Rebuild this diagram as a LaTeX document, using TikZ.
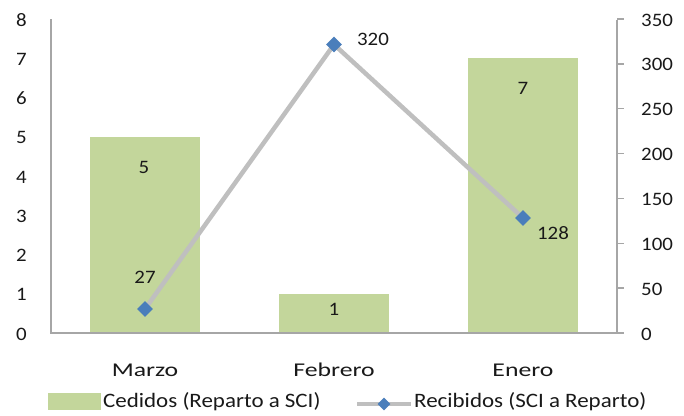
\documentclass[tikz,border=0pt]{standalone}
\usepackage{fontspec}
\setmainfont{Carlito}[FakeStretch=1.12]
\newfontfamily\catfont{Carlito}[FakeStretch=1.32]
\newfontfamily\numfont{Carlito}[FakeStretch=1.1]
\usetikzlibrary{shapes.geometric}
\definecolor{bargreen}{HTML}{C3D69B}
\definecolor{linegray}{HTML}{BFBFBF}
\definecolor{axisgray}{HTML}{A6A6A6}
\definecolor{markblue}{HTML}{4A7EBB}
\begin{document}
\begin{tikzpicture}[x=1pt,y=-1pt,
  every node/.style={inner sep=0pt, text=black!90},
  axisline/.style={draw=axisgray, line width=1.4pt},
  serieline/.style={draw=linegray, line width=4.5pt},
  dmark/.style={diamond, fill=markblue, minimum width=16pt, minimum height=16pt, inner sep=0pt},
  numlbl/.style={font=\numfont\fontsize{19}{22}\selectfont},
  catlbl/.style={font=\catfont\fontsize{19.5}{22}\selectfont},
  leglbl/.style={font=\fontsize{20.5}{23}\selectfont, anchor=west}]
\useasboundingbox (0,0) rectangle (684,415);
% bars
\fill[bargreen] (90,136.75) rectangle (200,333);
\fill[bargreen] (279,293.75) rectangle (389,333);
\fill[bargreen] (468,58.25) rectangle (578,333);
% axes
\coordinate (lt) at (51,19);
\coordinate (lb) at (51,333);
\coordinate (rb) at (617,333);
\coordinate (rt) at (617,19.5);
\draw[axisline] (lt) -- (lb) -- (rb) -- (rt);
% left labels
\foreach \v in {0,...,8} {
  \node[numlbl, anchor=east] (yl\v) at (27,333-\v*39.25+1) {\v};
}
% right ticks and labels
\foreach \v [count=\i] in {0,50,100,150,200,250,300,350} {
  \draw[axisline] (617,333-\v*0.8971) -- (624,333-\v*0.8971);
  \node[numlbl, anchor=west] (yr\i) at (641,333-\v*0.8971+1) {\v};
}
% series line
\coordinate (p1) at (145,309);
\coordinate (p2) at (334,44.5);
\coordinate (p3) at (523,218);
\draw[serieline] (p1) -- (p2) -- (p3);
\node[dmark] (m1) at (p1) {};
\node[dmark] (m2) at (p2) {};
\node[dmark] (m3) at (p3) {};
% data labels
\node[numlbl] (d1) at (144,167) {5};
\node[numlbl] (d2) at (334,309) {1};
\node[numlbl] (d3) at (523,88) {7};
\node[numlbl] (e1) at (145,277) {27};
\node[numlbl] (e2) at (373,39) {320};
\node[numlbl] (e3) at (553,233) {128};
% categories
\node[catlbl] (c1) at (145,370) {Marzo};
\node[catlbl] (c2) at (334,370) {Febrero};
\node[catlbl] (c3) at (523,370) {Enero};
% legend
\fill[bargreen] (48,393) rectangle (101,410);
\node[leglbl] (l1) at (103,402) {Cedidos (Reparto a SCI)};
\coordinate (ls) at (357,404);
\coordinate (le) at (411,404);
\draw[serieline] (ls) -- (le);
\node[dmark, minimum width=13pt, minimum height=13pt] (lm) at (384,404) {};
\node[leglbl] (l2) at (414,402) {Recibidos (SCI a Reparto)};
\end{tikzpicture}
\end{document}
